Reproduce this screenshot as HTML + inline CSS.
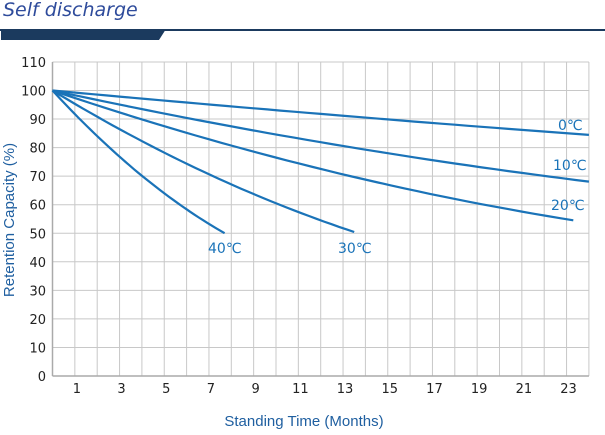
<!DOCTYPE html>
<html><head><meta charset="utf-8"><style>
body{margin:0;width:605px;height:430px;background:#fff;overflow:hidden;font-family:"Liberation Sans","DejaVu Sans",sans-serif}
</style></head><body>
<svg id="s" width="605" height="430" xmlns="http://www.w3.org/2000/svg">
<text x="3" y="16" font-family="'DejaVu Sans',sans-serif" font-style="italic" font-size="19" fill="#2e4b9b">Self discharge</text>
<rect x="0" y="29" width="605" height="2" fill="#1b3a5e"/>
<polygon points="1,29 166,29 159,40 1,40" fill="#1b3a5e"/>
<g id="grid"></g>
<g id="curves" fill="none" stroke="#1a73b8" stroke-width="2.2"></g>
<g font-size="14" fill="#1a73b8" font-family="'DejaVu Sans',sans-serif">
<text x="558" y="130">0℃</text>
<text x="553" y="170">10℃</text>
<text x="551" y="210">20℃</text>
<text x="338" y="253">30℃</text>
<text x="208" y="253">40℃</text>
</g>
<text transform="translate(14,220) rotate(-90)" text-anchor="middle" font-size="15" fill="#1f5fa0">Retention Capacity (%)</text>
<text x="304" y="426" text-anchor="middle" font-size="15" fill="#1f5fa0">Standing Time (Months)</text>
</svg>
<script>
var ns="http://www.w3.org/2000/svg",g=document.getElementById("grid"),c=document.getElementById("curves");
function el(p,t,a,txt){var e=document.createElementNS(ns,t);for(var k in a)e.setAttribute(k,a[k]);if(txt!=null)e.textContent=txt;p.appendChild(e);return e;}
var X=function(m){return 52.5+22.35*m},Y=function(v){return 376-2.855*v};
for(var i=0;i<=24;i++){el(g,"line",{x1:X(i),x2:X(i),y1:Y(110),y2:Y(0),stroke:"#c8c8c8","stroke-width":1});}
for(var v=0;v<=110;v+=10){el(g,"line",{x1:X(0),x2:X(24),y1:Y(v),y2:Y(v),stroke:"#c8c8c8","stroke-width":1});
el(g,"text",{x:46,y:Y(v)+5,"text-anchor":"end","font-size":13,fill:"#222","font-family":"'DejaVu Sans',sans-serif"},v);}
el(g,"line",{x1:X(0),x2:X(0),y1:Y(110),y2:Y(0),stroke:"#aaa","stroke-width":1.5});
el(g,"line",{x1:X(0),x2:X(24),y1:Y(0),y2:Y(0),stroke:"#aaa","stroke-width":1.5});
for(var m=1;m<=23;m+=2)el(g,"text",{x:X(m)+2,y:393,"text-anchor":"middle","font-size":13,fill:"#222","font-family":"'DejaVu Sans',sans-serif"},m);
[[0.72,0.003,24],[1.69,0.015,24],[2.65,0.03,23.3],[4.75,0.08,13.5],[8.51,0.262,7.7]].forEach(function(p){
var d="";for(var k=0;k<=40;k++){var m=p[2]*k/40,v=100-p[0]*m+p[1]*m*m;d+=(k?"L":"M")+X(m).toFixed(1)+","+Y(v).toFixed(1);}
el(c,"path",{d:d});});
</script>
</body></html>
